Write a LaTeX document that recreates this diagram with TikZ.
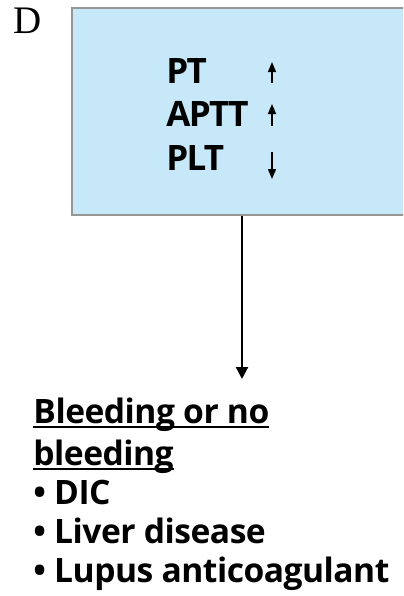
\documentclass[tikz,border=0pt]{standalone}
\usepackage{fontspec}
\setsansfont{Open Sans}
\newfontfamily\panelfont{Liberation Serif}
\usetikzlibrary{arrows.meta, positioning}
\definecolor{labfill}{RGB}{198, 232, 248}
\definecolor{labedge}{RGB}{150, 150, 150}
\newcommand{\ulword}[1]{\setbox0\hbox{#1}\rlap{\rule[-2.6pt]{\wd0}{0.9pt}}\box0}

\begin{document}
\begin{tikzpicture}[x=0.5pt, y=-0.5pt,
    labbox/.style={draw=labedge, fill=labfill, line width=1.3pt, inner sep=0pt},
    labtext/.style={font=\sffamily\bfseries\fontsize{17.5}{20}\selectfont\addfontfeatures{LetterSpace=-5}, inner sep=0pt, anchor=base west},
    causetext/.style={font=\sffamily\bfseries\fontsize{16.8}{20}\selectfont\addfontfeatures{LetterSpace=-1.5}, inner sep=0pt, anchor=base west},
    level/.style={line width=0.7pt, -{Triangle[width=4pt, length=5pt]}},
    flow/.style={line width=1.1pt, -{Triangle[width=6pt, length=6pt]}}]
    \useasboundingbox (0,0) rectangle (403,596);
    \clip (0,0) rectangle (403,596);

    \node[font=\panelfont\fontsize{19.5}{19.5}\selectfont, inner sep=0pt, anchor=base west] (panel) at (13,33) {D};

    % lab results box (runs off the right edge)
    \node[labbox, minimum width=170pt, minimum height=103.5pt] (lab) at (242,111.5) {};
    \foreach \n/\t/\y in {pt/PT/83, aptt/APTT/126, plt/PLT/170}
        \node[labtext] (\n) at (166,\y) {\t};
    \draw[level] (272,83) -- (272,62);
    \draw[level] (272,126) -- (272,104);
    \draw[level] (272,152) -- (272,179);

    % causes
    \coordinate (tip) at (242,379);
    \draw[flow] (lab.south) -- (tip);
    \node[causetext] (head) at (33,423) {\ulword{Bleeding or no}};
    \node[causetext] (headb) at (33,465) {\ulword{bleeding}};
    \foreach \n/\t/\y in {dic/DIC/504, liver/Liver disease/543, lupus/Lupus anticoagulant/582}
        \node[causetext] (\n) at (33,\y) {\textbullet~\t};
\end{tikzpicture}
\end{document}
